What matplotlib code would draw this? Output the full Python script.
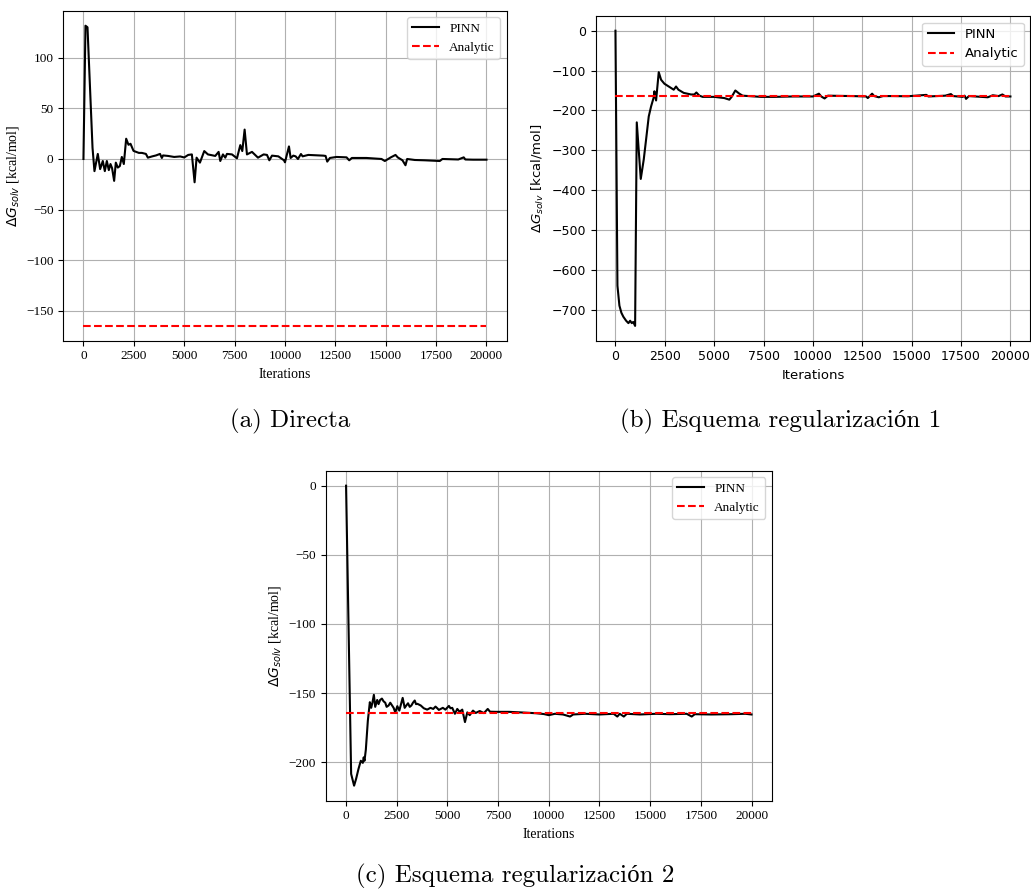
import numpy as np
import matplotlib
matplotlib.use('Agg')
import matplotlib.pyplot as plt

# Solvation energy reference value
analytic = -164.5

# Direct training
a_it = [0, 100, 200, 450, 546, 712, 828, 960, 1060, 1160, 1258, 1341, 1420, 1523, 1606,
        1705, 1805, 1904, 2003, 2120, 2235, 2335, 2484, 2616, 2750, 2900, 3100, 3196, 3400,
        3600, 3800, 3890, 3950, 4200, 4500, 4800, 5000, 5200, 5380, 5515, 5614, 5780, 5995,
        6177, 6540, 6707, 6790, 6922, 7038, 7120, 7370, 7618, 7783, 7882, 7998, 8114, 8363,
        8661, 8942, 9108, 9224, 9356, 9670, 9950, 10000, 10198, 10281, 10413, 10529, 10644,
        10793, 10876, 11157, 11900, 12015, 12098, 12230, 12560, 13056, 13188, 13320, 14047,
        14790, 14956, 15253, 15485, 15600, 15831, 15980, 16063, 16443, 16938, 17682, 17814,
        18600, 18871, 18950, 19334, 20000]
a_dg = [0, 131.5, 130, 11, -12, 5, -10, -2, -12, -2, -11, -5, -9, -21.6, -3.6,
        -8.5, -7, 2, -5, 20, 14, 15, 8, 7, 6, 6, 5, 1.3, 2.5,
        3.5, 5, 1, 3.5, 3, 2, 2.5, 1.5, 4, 4.5, -23, 1.3, -3.6, 7.8,
        4.5, 3, 7, -2, 4.5, 1.3, 5, 4.5, 0.7, 13.7, 7.8, 29, 4.5, 7,
        1.3, 4.5, 4, -1.3, 3.3, 2.6, -1.3, -3.3, 12.4, 1, 3.3, 2.6, 0,
        4.9, 2.6, 4, 3.3, 3, -2.6, 1, 2, 1.6, -1.3, 1, 1,
        0, -2, 1.6, 4, 1.5, -1.3, -6.2, 0, -1, -1.3, -2, 0,
        -0.5, 1.6, -0.5, -0.7, -0.7]

# Regularisation scheme 1
b_it = [0, 100, 200, 300, 400, 540, 657, 742, 826, 900, 995, 1079, 1281, 1433, 1551, 1686,
        1804, 1939, 1973, 2057, 2192, 2310, 2478, 2731, 2950, 3068, 3187, 3456, 3827, 3996,
        4097, 4249, 4417, 5007, 5513, 5766, 5884, 6070, 6272, 6440, 7368, 8042, 9000, 10000,
        10303, 10420, 10589, 10757, 11300, 12000, 12693, 12777, 12996, 13100, 13333, 13550,
        14040, 14800, 15740, 15850, 16700, 16986, 17100, 17585, 17680, 17753, 17900, 18854,
        19106, 19400, 19593, 19750, 20000]
b_dg = [0, -640, -690, -708, -718, -728, -734, -728, -734, -731, -741, -230, -372, -323, -273, -215,
        -190, -167, -152, -175, -104, -123, -133, -141, -148, -140, -148, -156, -160, -160,
        -155, -163, -166, -166, -169, -173, -166, -150, -158, -163, -166, -166, -165, -165,
        -158, -165, -170, -163, -163.5, -164, -165, -169, -158, -164, -167, -164,
        -164, -164.5, -161, -165, -163, -159, -164, -166, -163, -171, -164, -167,
        -162, -164, -160, -165, -165]

# Regularisation scheme 2
c_it = [0, 250, 396, 496, 611, 727, 826, 870, 909, 975, 1074, 1173, 1239, 1300, 1371, 1437,
        1536, 1602, 1680, 1768, 1850, 1933, 2000, 2098, 2180, 2346, 2428, 2528, 2627, 2792,
        2891, 2970, 3056, 3140, 3221, 3300, 3387, 3450, 3519, 3684, 3833, 4000, 4163, 4300,
        4411, 4500, 4576, 4774, 4900, 5072, 5150, 5237, 5369, 5485, 5600, 5732, 5865, 5980,
        6100, 6261, 6393, 6592, 6800, 6988, 7100, 7385, 8045, 8600, 9000, 9367, 9760, 10000,
        10300, 10700, 11050, 11200, 11800, 12500, 13200, 13380, 13500, 13700, 13850, 14500,
        15300, 16000, 16800, 17050, 17200, 18000, 19000, 19700, 20000]
c_dg = [0, -208.5, -217, -212, -205, -199, -200.5, -196.5, -199, -191, -170, -156.6, -160.7, -157, -151.3, -160,
        -155, -158, -155, -154, -156, -157, -160, -159, -157, -160.7, -164, -159.5, -162.7, -153.5,
        -160.7, -159, -157.4, -160, -159, -157, -155.4, -158, -157.8, -159, -161, -162, -160.7, -161.5,
        -159.8, -161, -162.2, -160.7, -162, -159.3, -161, -160.7, -165, -161.5, -163.5, -162, -171, -164,
        -166, -162.7, -164.4, -163, -164.5, -161.5, -163.5, -163.6, -163.6, -164, -164.3, -164.6, -165.2, -166,
        -165, -165.5, -167, -165.5, -165, -165.5, -165, -167, -165, -167, -165, -165.5,
        -165, -165.3, -165, -167, -165.3, -165.5, -165.3, -165, -165.5]

ylabel = r'$\Delta G_{solv}$ [kcal/mol]'
fig = plt.figure(figsize=(10.31, 8.93), dpi=100)


def panel(rect, it, dg, family, size):
    ax = fig.add_axes(rect)
    ax.plot(it, dg, color='k', lw=1.5, label='PINN')
    ax.plot([it[0], it[-1]], [analytic, analytic], 'r--', lw=1.5, label='Analytic')
    ax.grid(True)
    ax.set_xticks(np.arange(0, 20001, 2500))
    ax.set_xlabel('Iterations', fontsize=size + 0.5, family=family)
    ax.set_ylabel(ylabel, fontsize=size + 0.5, family=family)
    ax.tick_params(labelsize=size, labelfontfamily=family)
    ax.legend(loc='upper right', prop={'family': family, 'size': 9.5})
    return ax


ax1 = panel([0.0614, 0.6185, 0.430, 0.3695], a_it, a_dg, 'Liberation Serif', 9.5)
ax1.set_yticks([-150, -100, -50, 0, 50, 100])
ax2 = panel([0.5778, 0.6185, 0.4214, 0.3636], b_it, b_dg, 'DejaVu Sans', 9)
ax3 = panel([0.316, 0.1034, 0.4326, 0.3695], c_it, c_dg, 'Liberation Serif', 9.5)

cap = dict(ha='center', va='center', fontsize=18, family=['cmr10', 'Liberation Serif'])
fig.text(0.281, 0.528, '(a) Directa', **cap)
fig.text(0.757, 0.528, '(b) Esquema regularización 1', **cap)
fig.text(0.500, 0.018, '(c) Esquema regularización 2', **cap)

fig.savefig('out.png', dpi=100)
